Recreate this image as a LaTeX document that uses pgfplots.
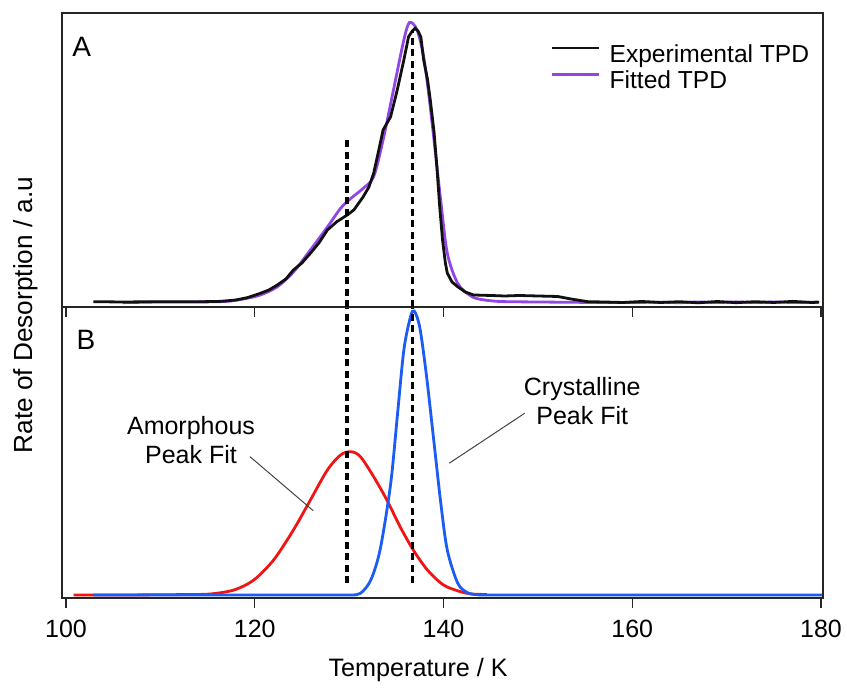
\documentclass[border=0pt]{standalone}
\usepackage{fontspec}
\setmainfont{Liberation Sans}
\usepackage{pgfplots}
\pgfplotsset{compat=1.18}
\definecolor{expk}{HTML}{111111}
\definecolor{fitp}{HTML}{9146E6}
\definecolor{amred}{HTML}{F01414}
\definecolor{crblue}{HTML}{1A5CF5}
\definecolor{leader}{HTML}{444444}

\pgfplotsset{
  tpd/.style={
    scale only axis, width=380.5pt,
    xmin=99.58, xmax=180.21,
    ytick=\empty,
    xtick={100,120,...,180},
    xtick pos=left, tick align=outside,
    major tick length=5pt,
    axis line style={line width=0.75pt, black!85},
    tick style={line width=0.75pt, black!85},
    /pgf/number format/assume math mode=true,
    xticklabel style={font=\fontsize{12.5}{14}\selectfont, yshift=-1.5pt},
    label style={font=\fontsize{12.6}{14}\selectfont},
  },
  vmark/.style={black, line width=1.6pt, dash pattern=on 3.5pt off 2.2pt, forget plot},
  crv/.style={line width=1.4pt},
}

\begin{document}
\fontsize{12.5}{14}\selectfont
\begin{tikzpicture}
% panel B: peak fits
\begin{axis}[tpd, name=b, height=145.5pt, ymin=0, ymax=291,
  xlabel={Temperature / K},
  xlabel style={at={(axis description cs:0.468,0)}, anchor=center, yshift=-36pt},
]
\addplot[crv, amred, smooth, tension=0.5] coordinates {
  (100.8,3) (105,3) (110,3.2) (113,3.5) (115.3,4) (117.8,8) (119.9,18)
  (122.0,38) (124.1,68) (125.9,98) (127.7,128) (129.1,143) (130.2,146.3)
  (131.2,141.3) (132.6,121.3) (134.0,98) (135.4,71.3) (136.8,48) (138.3,28)
  (140.0,13) (141.8,6.3) (143,4) (144.6,3.5)
};
\addplot[crv, crblue, smooth, tension=0.5] coordinates {
  (102.9,3) (110,3) (120,3) (127,3) (130.1,3) (131.2,4.7) (132.3,18)
  (133.3,49) (134.4,114) (135.1,181) (135.8,248) (136.5,281)
  (136.9,287) (137.5,270) (138.2,222) (139.0,155) (139.7,96) (140.4,48)
  (141.5,15) (142.5,5.5) (143.5,3.3) (144.6,3) (150,3) (160,3) (170,3) (180.1,3)
};
\addplot[vmark] coordinates {(129.77,15) (129.77,291)};
\addplot[vmark] coordinates {(136.7,15) (136.7,291)};
\node[font=\fontsize{14}{16}\selectfont] at (rel axis cs:0.0315,0.887) {B};
\node[align=center, font=\fontsize{12.5}{14.7}\selectfont] at (axis cs:113.25,158) {Amorphous\\Peak Fit};
\node[align=center, font=\fontsize{12.5}{14.7}\selectfont] at (axis cs:154.7,197) {Crystalline\\Peak Fit};
\draw[leader, line width=0.5pt] (axis cs:119.5,141.3) -- (axis cs:126.2,87.3);
\draw[leader, line width=0.5pt] (axis cs:148.6,184.7) -- (axis cs:140.6,134.7);
\end{axis}

% panel A: experimental and fitted TPD
\begin{axis}[tpd, at={(b.north west)}, anchor=south west, height=147pt,
  ymin=0, ymax=294, xticklabels={},
  reverse legend,
  legend cell align=left,
  legend image code/.code={
    \path[draw=none] (0pt,0pt) -- (29pt,0pt);
    \draw[#1, line width=1.4pt, solid] (0pt,4.3pt) -- (23.5pt,4.3pt);
  },
  legend style={at={(rel axis cs:0.641,0.898)}, anchor=north west,
    draw=none, fill=none, inner sep=0pt, row sep=0pt,
    font=\fontsize{12.3}{14}\selectfont,
    nodes={inner xsep=0pt, inner ysep=1pt, text height=8.4pt, text depth=2.9pt}},
]
\addplot[crv, fitp, smooth, tension=0.5] coordinates {
  (106,4.3) (110,5) (116.3,5.3) (118.5,7.5) (120.6,12) (122.4,20.3)
  (124.1,35) (125.9,57) (127.7,80) (129.1,98.7) (130.2,108.7) (131.5,118.7)
  (132.6,130.3) (133.6,167) (134.7,217) (135.8,267) (136.4,284.5) (137.2,277)
  (137.9,250) (138.6,200) (139.7,107) (140.4,54) (141.5,23.7) (142.9,11)
  (144,7.5) (146,5.5) (150,5) (155,4.6) (160,4.5) (163,4.8) (165,4.3)
  (167,5.0) (169,4.4) (171,5.1) (173,4.4) (175,5.0) (177,4.5) (179.7,4.9)
};
\addlegendentry{Fitted TPD}
\addplot[crv, expk] coordinates {
  (102.9,5.3) (106,5.0) (110,5.3) (114,5.2) (116.3,5.6) (117.2,6.3) (118,7)
  (119.2,9.3) (120.6,13.7) (121.5,17) (122.4,22) (123.3,28) (124.1,37)
  (125,44) (125.9,53.7) (126.8,64) (127.7,77) (128.7,85.3) (129.8,92)
  (130.5,97) (131.5,110.3) (132.1,120) (132.6,133.7) (133.1,155) (133.6,177)
  (134.4,190.3) (135.1,217) (135.8,247) (136.3,270.3) (136.7,276) (137.0,278.7)
  (137.3,276) (137.6,270) (137.9,247) (138.3,228) (138.6,207) (139.0,175)
  (139.3,140) (139.6,100) (139.9,67) (140.2,44) (140.4,34) (140.9,25)
  (141.5,20.3) (142.3,15) (143.2,12) (145,11.5) (146.5,11) (148,11.5)
  (150,11) (152.1,10.5) (153.5,8) (155.3,5.3) (157,5) (159,4.5) (161,5.5)
  (163,4.5) (165,5.3) (167,4.2) (169,5.5) (171,4.3) (173,5.3) (175,4.5)
  (177,5.6) (179,4.5) (179.8,4.8)
};
\addlegendentry{Experimental TPD}
\addplot[vmark] coordinates {(129.77,0) (129.77,169)};
\addplot[vmark] coordinates {(136.7,0) (136.7,277)};
\node[font=\fontsize{14}{16}\selectfont] at (rel axis cs:0.026,0.884) {A};
\end{axis}

\node[rotate=90, font=\fontsize{13.1}{15}\selectfont] at ([shift={(-18pt,141.5pt)}]b.south west) {Rate of Desorption / a.u};

\pgfresetboundingbox
\path ([shift={(-31pt,-45pt)}]b.south west) rectangle ++(423.5pt,344pt);
\end{tikzpicture}
\end{document}
